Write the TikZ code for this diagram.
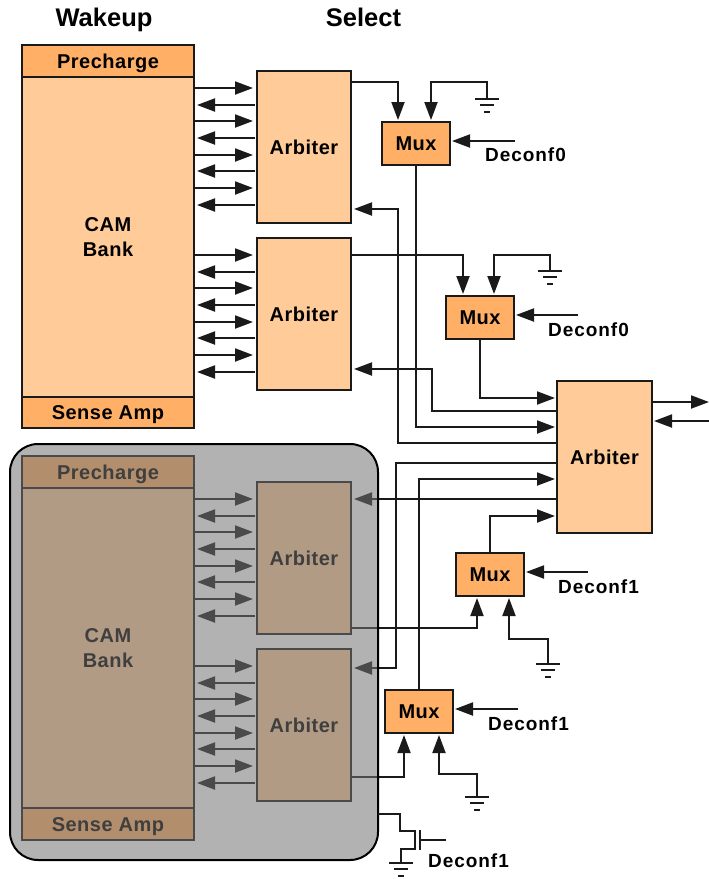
\documentclass[tikz,border=0pt]{standalone}
\usepackage{fontspec}
\setmainfont{Liberation Sans}
\usetikzlibrary{arrows.meta}
\definecolor{bodyfill}{HTML}{FFCC99}
\definecolor{capfill}{HTML}{FFB066}
\definecolor{edge}{HTML}{1A1A1A}
\tikzset{
  x=1pt,y=-1pt,
  box/.style={draw=edge,line width=2pt,inner sep=0pt,outer sep=0pt,align=center,
    font=\fontsize{20}{24}\selectfont\addfontfeatures{LetterSpace=2.5}\bfseries},
  capht/.style={text height=14.5pt,text depth=0pt},
  body/.style={box,fill=bodyfill},
  capbox/.style={box,capht,fill=capfill,minimum width=172pt,minimum height=32pt},
  bank/.style={body,minimum width=172pt,minimum height=320pt},
  arbiter/.style={body,capht,minimum width=94pt,minimum height=152pt},
  mux/.style={box,capht,fill=capfill,minimum width=68pt,minimum height=43pt},
  wire/.style={line width=2pt,draw=edge,line join=miter},
  arr/.style={wire,-{Triangle[length=18pt,width=13pt]},shorten >=2pt},
  lab/.style={inner sep=0pt,font=\fontsize{19}{22}\selectfont\addfontfeatures{LetterSpace=5}\bfseries,text=black},
  head/.style={inner sep=0pt,anchor=base,font=\fontsize{25.5}{27}\selectfont\bfseries,text=black},
  gnd/.pic={
    \draw[wire] (-12,0)--(12,0);
    \draw[wire] (-7,6)--(7,6);
    \draw[wire] (-3,13)--(3,13);
  },
}
\begin{document}
\begin{tikzpicture}
\useasboundingbox (0,0) rectangle (709,879);
% headings
\node[head] (hwake) at (104,26) {Wakeup};
\node[head] (hsel) at (363.5,26) {Select};
% top bank
\node[bank] (bankA) at (108,237) {CAM\\[1pt]Bank};
\node[capbox] (preA) at (108,61) {Precharge};
\node[capbox,minimum height=31pt] (senseA) at (108,412.5) {Sense Amp};
\node[arbiter] (arbA) at (304,147) {Arbiter};
\node[arbiter] (arbB) at (304,314) {Arbiter};
% bottom bank
\node[bank] (bankB) at (108,648) {CAM\\[1pt]Bank};
\node[capbox] (preB) at (108,472) {Precharge};
\node[capbox] (senseB) at (108,824) {Sense Amp};
\node[arbiter] (arbC) at (304,558) {Arbiter};
\node[arbiter] (arbD) at (304,725) {Arbiter};
% right column
\node[body,capht,minimum width=95pt,minimum height=152pt] (arbE) at (604.5,457) {Arbiter};
\node[mux] (muxA) at (416,143.5) {Mux};
\node[mux] (muxB) at (480,317.5) {Mux};
\node[mux] (muxC) at (490,574.5) {Mux};
\node[mux] (muxD) at (419,711.5) {Mux};
% bank <-> arbiter arrows
\foreach \bk/\ar/\base in {bankA/arbA/88,bankA/arbB/255,bankB/arbC/499,bankB/arbD/666}{
  \foreach \k in {0,2,4,6}{
    \pgfmathsetmacro{\ya}{round(\base+\k*16.7)}
    \pgfmathsetmacro{\yb}{round(\base+(\k+1)*16.7)}
    \draw[arr,shorten >=4pt] (\bk.east |- 0,\ya) -- (\ar.west |- 0,\ya);
    \draw[arr,shorten >=3pt,shorten <=2pt] (\ar.west |- 0,\yb) -- (\bk.east |- 0,\yb);
  }
}
% ground points
\coordinate (gA) at (487,99);
\coordinate (gB) at (550,271);
\coordinate (gC) at (548,664);
\coordinate (gD) at (477,797);
\coordinate (gE) at (401,863);
\pic at (gA) {gnd};
\pic at (gB) {gnd};
\pic at (gC) {gnd};
\pic at (gD) {gnd};
\pic at (gE) {gnd};
% mux A
\draw[arr] (arbA.east |- 0,82) -| (398,0 |- muxA.north);
\draw[arr] (gA) |- (431,82) -- (431,0 |- muxA.north);
\coordinate (cfgA) at (515,141);
\draw[arr] (cfgA) -- (muxA.east |- cfgA);
% mux B
\draw[arr] (arbB.east |- 0,255) -| (463,0 |- muxB.north);
\draw[arr] (gB) |- (494,255) -- (494,0 |- muxB.north);
\coordinate (cfgB) at (578,315);
\draw[arr] (cfgB) -- (muxB.east |- cfgB);
% into / out of big arbiter, upper group
\draw[arr] (muxA.south) |- (arbE.west |- 0,427);
\draw[arr,shorten >=2pt] (muxB.south) |- (arbE.west |- 0,398);
\draw[arr,shorten >=3pt] (arbE.west |- 0,443) -| (398,209) -- (arbA.east |- 0,209);
\draw[arr,shorten >=3pt] (arbE.west |- 0,411) -| (432,369) -- (arbB.east |- 0,369);
% big arbiter, right side
\coordinate (outE) at (709,402);
\coordinate (inE) at (709,421);
\draw[arr,shorten >=0pt] (arbE.east |- outE) -- (outE);
\draw[arr] (inE) -- (arbE.east |- inE);
% big arbiter, lower group
\draw[arr,shorten >=3pt] (arbE.west |- 0,463) -| (396,668) -- (arbD.east |- 0,668);
\draw[arr,shorten >=3pt] (arbE.west |- 0,499) -- (arbC.east |- 0,499);
\draw[arr] (419,0 |- muxD.north) |- (arbE.west |- 0,479);
\draw[arr] (muxC.north) |- (arbE.west |- 0,516);
% mux C
\draw[arr] (arbC.east |- 0,628) -| (477,0 |- muxC.south);
\draw[arr] (gC) |- (509,639) -- (509,0 |- muxC.south);
\coordinate (cfgC) at (588,572);
\draw[arr] (cfgC) -- (muxC.east |- cfgC);
% mux D
\draw[arr] (arbD.east |- 0,777) -| (404,0 |- muxD.south);
\draw[arr] (gD) |- (439,774) -- (439,0 |- muxD.south);
\coordinate (cfgD) at (518,709);
\draw[arr] (cfgD) -- (muxD.east |- cfgD);
% translucent group
\node[fill={rgb,1:red,.45;green,.45;blue,.45},fill opacity=.55,draw=black,draw opacity=1,
  line width=2pt,rounded corners=28pt,inner sep=0pt,outer sep=0pt,
  minimum width=368pt,minimum height=416pt] (shade) at (194,652) {};
% transistor
\coordinate (chanTop) at (415,831);
\coordinate (chanBot) at (415,849);
\coordinate (gateTop) at (420,830);
\coordinate (gateBot) at (420,850);
\coordinate (gateIn) at (446,840);
\draw[wire] (shade.east |- 0,814) -| (400,831) -- (chanTop) -- (chanBot) -- (401,849) -- (gE);
\draw[wire] (gateTop) -- (gateBot);
\draw[wire] (gateIn) -- (gateTop |- gateIn);
% labels
\node[lab,anchor=west] (dA) at (485,155) {Deconf0};
\node[lab,anchor=west] (dB) at (548,329.5) {Deconf0};
\node[lab,anchor=west] (dC) at (558,586.5) {Deconf1};
\node[lab,anchor=west] (dD) at (488,723.5) {Deconf1};
\node[lab,anchor=west] (dE) at (428,860.5) {Deconf1};
\end{tikzpicture}
\end{document}
